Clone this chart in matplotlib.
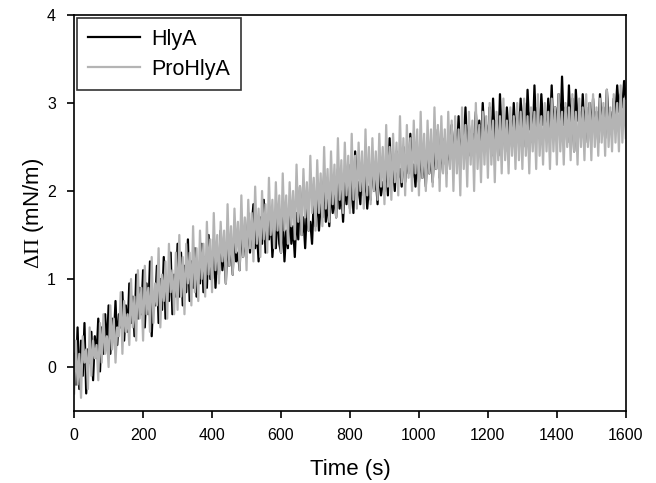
"""Surface pressure increase vs time for HlyA and ProHlyA."""

import matplotlib
matplotlib.use("Agg")
import matplotlib.pyplot as plt
import numpy as np

plt.rcParams["font.family"] = ["Liberation Sans", "DejaVu Sans"]
plt.rcParams["mathtext.fontset"] = "custom"
plt.rcParams["mathtext.rm"] = "Liberation Serif"

# ── Data (5 s sampling) ──────────────────────────────────────────────────────
STEP = 5  # s

hlya = [
    0.15, -0.2, 0.45, -0.25, 0.3, -0.1, 0.5, -0.3, 0.2, 0.05, 0.4, -0.15, 0.35, 0.1, 0.55, -0.05, 0.45, 0.15, 0.6, 0.2,
    0.7, 0.15, 0.55, 0.3, 0.75, 0.25, 0.6, 0.45, 0.85, 0.3, 0.7, 0.4, 0.95, 0.5, 0.8, 0.35, 1.05, 0.55, 0.9, 0.6,
    1.1, 0.45, 0.95, 0.6, 1.2, 0.35, 0.85, 0.7, 1.15, 0.5, 1.0, 0.65, 1.25, 0.55, 0.9, 0.75, 1.3, 0.6, 1.05, 0.8,
    1.4, 0.8, 1.3, 0.7, 1.15, 0.85, 1.45, 0.75, 1.2, 0.9, 1.35, 0.8, 1.05, 0.95, 1.4, 0.85, 1.25, 0.9, 1.5, 1.0,
    1.0, 1.45, 0.9, 1.3, 1.05, 1.55, 1.1, 1.35, 0.95, 1.5, 1.15, 1.4, 1.05, 1.6, 1.2, 1.3, 1.1, 1.65, 1.25, 1.45,
    1.25, 1.75, 1.3, 1.6, 1.85, 1.35, 1.55, 1.2, 1.7, 1.4, 1.9, 1.3, 1.6, 1.45, 1.75, 1.25, 1.55, 1.35, 1.8, 1.4,
    1.3, 1.7, 1.2, 1.55, 1.35, 1.85, 1.4, 1.6, 1.25, 1.75, 1.45, 2.05, 1.5, 1.7, 1.35, 1.8, 1.55, 1.65, 1.4, 1.9,
    1.6, 2.0, 1.55, 1.85, 1.7, 2.2, 1.65, 1.9, 1.6, 2.05, 1.75, 1.95, 1.7, 2.25, 1.8, 2.0, 1.65, 2.1, 1.85, 2.3,
    1.8, 2.15, 1.75, 2.45, 1.9, 2.1, 1.85, 2.3, 1.95, 2.2, 1.8, 2.05, 1.9, 2.4, 2.0, 2.15, 1.85, 2.3, 1.95, 2.1,
    2.0, 2.35, 1.95, 2.6, 2.1, 2.3, 2.0, 2.45, 2.15, 2.25, 2.05, 2.5, 2.1, 2.35, 2.2, 2.65, 2.15, 2.3, 2.05, 2.45,
    2.1, 2.45, 2.15, 2.35, 2.05, 2.6, 2.2, 2.4, 2.1, 2.55, 2.25, 2.7, 2.15, 2.45, 2.3, 2.6, 2.2, 2.5, 2.35, 2.75,
    2.3, 2.7, 2.4, 2.85, 2.35, 2.6, 2.5, 2.95, 2.45, 2.75, 2.4, 2.65, 2.55, 2.9, 2.5, 2.8, 2.45, 3.0, 2.6, 2.75,
    2.5, 2.95, 2.4, 3.05, 2.55, 2.8, 2.4, 3.1, 2.6, 2.85, 2.45, 2.95, 2.65, 2.8, 2.5, 3.0, 2.6, 2.9, 2.55, 3.05,
    2.6, 3.0, 2.5, 3.15, 2.7, 2.9, 2.55, 3.2, 2.65, 2.95, 2.6, 3.1, 2.75, 2.85, 2.6, 3.05, 2.7, 3.2, 2.65, 2.95,
    2.7, 3.1, 2.6, 3.3, 2.75, 2.95, 2.55, 3.2, 2.7, 3.05, 2.45, 3.15, 2.8, 2.9, 2.6, 3.1, 2.7, 2.95, 2.55, 3.0,
    2.65, 3.05, 2.7, 2.9, 2.55, 3.1, 2.75, 2.95, 2.6, 3.15, 2.8, 2.9, 2.7, 3.05, 2.85, 3.2, 2.9, 3.1, 2.95, 3.25,
    3.05,
]

prohlya = [
    -0.3, 0.3, -0.2, 0.15, -0.35, 0.35, 0.05, 0.2, -0.25, 0.45, -0.1, 0.3, 0.1, 0.25, -0.15, 0.5, 0.05, 0.6, 0.15, 0.35,
    0.0, 0.7, 0.2, 0.55, 0.05, 0.45, 0.35, 0.85, 0.15, 0.75, 0.4, 0.6, 0.25, 1.0, 0.45, 0.8, 0.3, 1.1, 0.55, 0.9,
    0.3, 1.15, 0.6, 0.9, 0.4, 1.25, 0.5, 0.95, 0.7, 1.35, 0.45, 1.05, 0.75, 1.2, 0.55, 1.4, 0.85, 1.1, 0.6, 1.3,
    0.65, 1.5, 0.8, 1.25, 0.6, 1.4, 0.95, 1.3, 0.7, 1.6, 0.85, 1.35, 0.75, 1.55, 1.0, 1.4, 0.8, 1.65, 1.05, 1.45,
    0.85, 1.75, 1.1, 1.5, 0.95, 1.65, 1.2, 1.55, 0.95, 1.85, 1.15, 1.6, 1.05, 1.8, 1.3, 1.65, 1.1, 1.95, 1.25, 1.7,
    1.1, 1.9, 1.35, 1.75, 1.2, 2.05, 1.4, 1.8, 1.25, 2.0, 1.45, 1.85, 1.3, 2.15, 1.5, 1.9, 1.35, 2.1, 1.55, 1.95,
    1.3, 2.2, 1.55, 1.95, 1.4, 2.1, 1.6, 2.0, 1.45, 2.3, 1.65, 2.05, 1.5, 2.25, 1.7, 2.1, 1.55, 2.4, 1.75, 2.15,
    1.55, 2.35, 1.75, 2.2, 1.6, 2.5, 1.8, 2.25, 1.65, 2.45, 1.85, 2.3, 1.7, 2.6, 1.9, 2.35, 1.75, 2.55, 1.95, 2.4,
    1.75, 2.65, 1.9, 2.4, 1.8, 2.55, 2.0, 2.45, 1.8, 2.7, 1.95, 2.5, 1.85, 2.6, 2.0, 2.45, 1.9, 2.65, 2.05, 2.5,
    1.85, 2.75, 2.05, 2.5, 1.9, 2.65, 2.1, 2.55, 1.95, 2.85, 2.1, 2.6, 1.95, 2.75, 2.15, 2.6, 2.0, 2.8, 2.2, 2.7,
    1.95, 2.9, 2.15, 2.65, 2.0, 2.8, 2.2, 2.7, 2.05, 2.95, 2.25, 2.75, 2.0, 2.85, 2.2, 2.7, 2.05, 2.9, 2.25, 2.8,
    2.0, 2.85, 2.2, 2.7, 1.95, 2.95, 2.25, 2.75, 2.05, 2.9, 2.3, 2.8, 2.0, 3.0, 2.25, 2.75, 2.1, 2.9, 2.3, 2.85,
    2.15, 3.0, 2.3, 2.8, 2.1, 2.9, 2.35, 2.85, 2.2, 3.05, 2.35, 2.8, 2.2, 2.95, 2.4, 2.85, 2.25, 3.0, 2.35, 2.9,
    2.25, 3.05, 2.4, 2.85, 2.2, 2.95, 2.45, 2.9, 2.25, 3.1, 2.4, 2.85, 2.3, 3.0, 2.45, 2.9, 2.25, 3.05, 2.45, 2.95,
    2.3, 3.1, 2.45, 2.9, 2.3, 3.0, 2.5, 2.95, 2.35, 3.1, 2.45, 2.9, 2.3, 3.05, 2.5, 2.95, 2.35, 3.1, 2.5, 3.0,
    2.35, 3.1, 2.5, 2.95, 2.4, 3.05, 2.55, 3.0, 2.4, 3.15, 2.5, 2.95, 2.45, 3.1, 2.55, 3.0, 2.45, 3.2, 2.55, 3.05,
    2.6,
]

X_TICKS = [0, 200, 400, 600, 800, 1000, 1200, 1400, 1600]
Y_TICKS = [0, 1, 2, 3, 4]


def main() -> None:
    t_h = np.arange(len(hlya)) * STEP
    t_p = np.arange(len(prohlya)) * STEP

    fig = plt.figure(figsize=(6.56, 4.83), dpi=100)
    ax = fig.add_axes([0.113, 0.149, 0.841, 0.820])

    ax.plot(t_h, hlya, color="black", linewidth=1.6, label="HlyA")
    ax.plot(t_p, prohlya, color="#b4b4b4", linewidth=1.6, label="ProHlyA")

    ax.set_xlim(0, 1600)
    ax.set_ylim(-0.5, 4)
    ax.set_xticks(X_TICKS)
    ax.set_yticks(Y_TICKS)
    ax.tick_params(direction="out", length=5, width=1.2, labelsize=11.5,
                   top=False, right=False)
    ax.tick_params(axis="x", pad=7)
    ax.tick_params(axis="y", pad=8)
    for sp in ax.spines.values():
        sp.set_linewidth(1.2)
        sp.set_color("black")

    ax.set_xlabel("Time (s)", fontsize=16, labelpad=12)
    ax.set_ylabel(r"$\mathrm{\Delta\Pi}$ (mN/m)", fontsize=16, labelpad=1)

    leg = ax.legend(loc="upper left", fontsize=15.5, frameon=True, fancybox=False,
                    handlelength=2.4, borderaxespad=0.15, borderpad=0.5,
                    labelspacing=0.4, handletextpad=0.55)
    leg.get_frame().set_edgecolor("black")
    leg.get_frame().set_linewidth(1.2)
    for line in leg.get_lines():
        line.set_linewidth(1.6)

    fig.savefig("out.png", dpi=100)
    plt.close(fig)


if __name__ == "__main__":
    main()
